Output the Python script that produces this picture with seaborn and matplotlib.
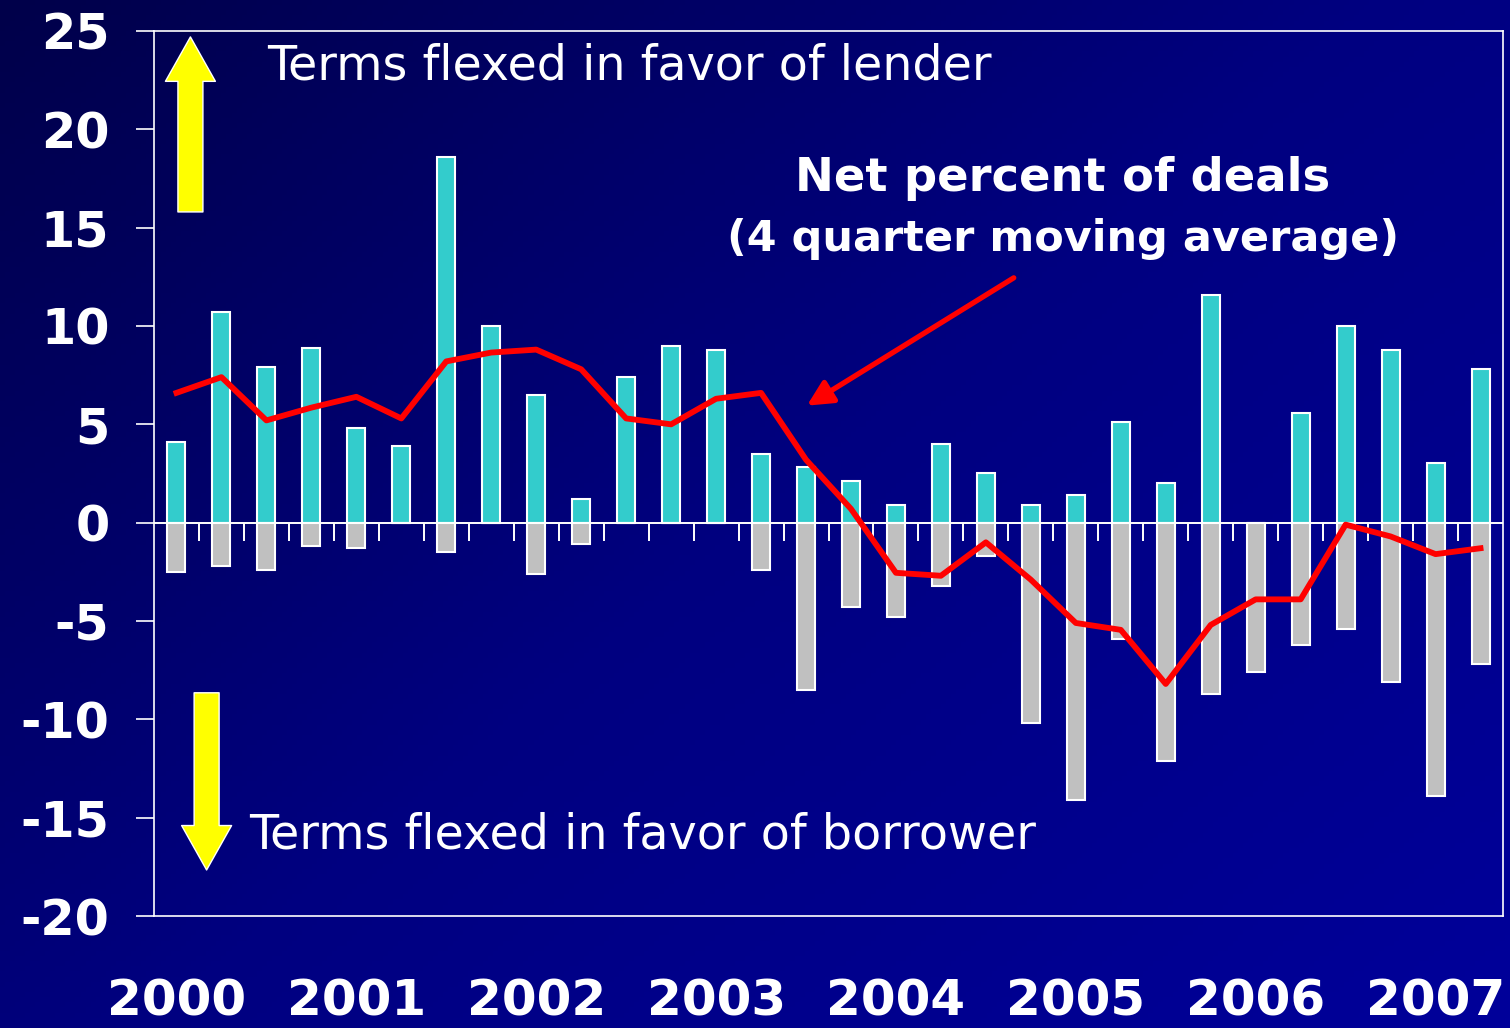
import numpy as np
import pandas as pd
import matplotlib
matplotlib.use("Agg")
import matplotlib.pyplot as plt
from matplotlib.colors import LinearSegmentedColormap
import seaborn as sns

# quarterly data, 2000Q1 .. 2007Q2
years = [2000, 2001, 2002, 2003, 2004, 2005, 2006, 2007]
quarters = [f"{y}Q{q}" for y in years for q in range(1, 5)][:30]

# percent of deals with terms flexed in favor of lender (positive bars)
lender = [4.1, 10.7, 7.9, 8.9, 4.8, 3.9, 18.6, 10.0, 6.5, 1.2,
          7.4, 9.0, 8.8, 3.5, 2.85, 2.1, 0.9, 4.0, 2.5, 0.9,
          1.4, 5.1, 2.0, 11.6, 0.0, 5.6, 10.0, 8.8, 3.05, 7.8]
# percent of deals with terms flexed in favor of borrower (negative bars)
borrower = [-2.5, -2.2, -2.4, -1.2, -1.3, 0.0, -1.5, 0.0, -2.6, -1.1,
            0.0, 0.0, 0.0, -2.4, -8.5, -4.3, -4.8, -3.2, -1.7, -10.2,
            -14.1, -5.9, -12.1, -8.7, -7.6, -6.2, -5.4, -8.1, -13.9, -7.2]
# net percent of deals, 4 quarter moving average
net_ma = [6.6, 7.4, 5.2, 5.85, 6.4, 5.3, 8.2, 8.65, 8.8, 7.8,
          5.3, 5.0, 6.3, 6.6, 3.2, 0.7, -2.55, -2.7, -1.0, -2.9,
          -5.1, -5.45, -8.2, -5.2, -3.9, -3.9, -0.1, -0.7, -1.6, -1.3]

yticks = list(range(-20, 30, 5))

df = pd.DataFrame({"quarter": quarters, "pos": np.arange(len(quarters)),
                   "lender": lender, "borrower": borrower, "net": net_ma})

teal = "#33CCCC"
gray = "#C0C0C0"
font = "DejaVu Sans"

fig = plt.figure(figsize=(15.1, 10.28), dpi=100)

# dark blue background
bg = fig.add_axes([0, 0, 1, 1], zorder=-10)
gx, gy = np.meshgrid(np.linspace(0, 1, 300), np.linspace(0, 1, 200))
grad = 0.55 * gx + 0.45 * gy
cmap = LinearSegmentedColormap.from_list("bgblue", ["#00004a", "#000080", "#00009a"])
bg.imshow(grad, cmap=cmap, aspect="auto", extent=[0, 1, 0, 1], origin="upper")
bg.axis("off")

ax = fig.add_axes([154 / 1510, 112 / 1028, (1503 - 154) / 1510, (916 - 31) / 1028])
ax.patch.set_alpha(0)

sns.barplot(data=df, x="pos", y="lender", color=teal, saturation=1, width=0.4,
            edgecolor="white", linewidth=1.5, native_scale=True, ax=ax, zorder=3)
sns.barplot(data=df, x="pos", y="borrower", color=gray, saturation=1, width=0.4,
            edgecolor="white", linewidth=1.5, native_scale=True, ax=ax, zorder=3)

ax.axhline(0, color="white", lw=1.4, zorder=4)
# small ticks between bars on the zero line
ax.vlines(df["pos"][:-1] + 0.5, -0.92, 0, color="white", lw=1.4, zorder=4)

sns.lineplot(data=df, x="pos", y="net", color="#FF0000", lw=4.2, ax=ax, zorder=6)

ax.set_xlim(-0.5, 29.5)
ax.set_ylim(-20, 25)
ax.set_xlabel("")
ax.set_ylabel("")

for s in ax.spines.values():
    s.set_color("white")
    s.set_linewidth(1.2)

ax.set_yticks(yticks)
ax.set_yticklabels([str(v) for v in yticks])
ax.tick_params(axis="y", direction="out", length=13, width=1.2, color="white",
               labelcolor="white", labelsize=35.5, pad=19)
ax.set_xticks(np.arange(0, 30, 4))
ax.set_xticklabels([str(y) for y in years])
ax.tick_params(axis="x", length=0, labelcolor="white", labelsize=36, pad=44)
for lab in ax.get_xticklabels() + ax.get_yticklabels():
    lab.set_fontweight("bold")
    lab.set_fontfamily(font)

# annotations
ax.text(2.02, 23.2, "Terms flexed in favor of lender", color="white",
        fontsize=34.3, family=font, ha="left", va="center", zorder=7)
ax.text(1.62, -15.9, "Terms flexed in favor of borrower", color="white",
        fontsize=34.3, family=font, ha="left", va="center", zorder=7)
ax.text(19.71, 17.5, "Net percent of deals", color="white", fontsize=33.5,
        fontweight="bold", family=font, ha="center", va="center", zorder=7)
ax.text(19.71, 14.4, "(4 quarter moving average)", color="white", fontsize=31,
        fontweight="bold", family=font, ha="center", va="center", zorder=7)

ax.annotate("", xy=(14.02, 5.95), xytext=(18.62, 12.45),
            arrowprops=dict(arrowstyle="-|>", color="#FF0000", lw=3.8,
                            mutation_scale=38, shrinkA=0, shrinkB=0), zorder=7)

# yellow direction arrows
ax.annotate("", xy=(0.31, 24.7), xytext=(0.31, 15.8),
            arrowprops=dict(width=18, headwidth=36, headlength=32,
                            facecolor="#FFFF00", edgecolor="white", lw=1,
                            shrink=0), zorder=7)
ax.annotate("", xy=(0.67, -17.66), xytext=(0.67, -8.65),
            arrowprops=dict(width=18, headwidth=36, headlength=32,
                            facecolor="#FFFF00", edgecolor="white", lw=1,
                            shrink=0), zorder=7)

fig.savefig("out.png", dpi=100, facecolor="#000080")
